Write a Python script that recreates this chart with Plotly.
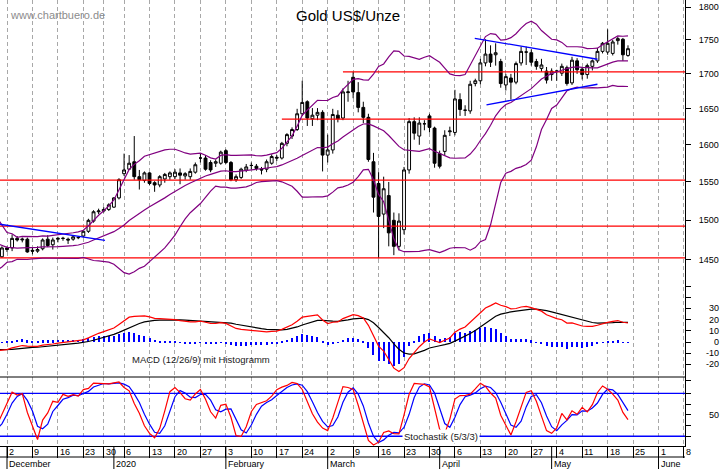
import numpy as np
import pandas as pd
import plotly.graph_objects as go

# ---------------- data ----------------
title_text = "Gold US$/Unze"
watermark = "www.chartbuero.de"

holidays = ["2019-12-25", "2020-01-01"]
calendar = pd.bdate_range("2019-11-29", "2020-06-12")
calendar = calendar[~calendar.isin(pd.to_datetime(holidays))]

# daily candles 2019-11-29 .. 2020-05-22
open_ = [1454, 1465, 1465, 1477, 1475, 1476, 1462, 1461, 1464, 1476, 1469,
         1476, 1477, 1476, 1476, 1478, 1480, 1486, 1499, 1511, 1512,
         1514, 1517, 1529, 1561, 1567, 1577, 1557, 1552, 1562, 1549,
         1546, 1554, 1557, 1557, 1562, 1558, 1557, 1563, 1582, 1582,
         1576, 1575, 1575, 1592, 1576, 1553, 1556, 1566, 1572, 1571,
         1567, 1567, 1575, 1583, 1582, 1602, 1612, 1621, 1643, 1660,
         1636, 1641, 1645, 1586, 1593, 1641, 1637, 1673, 1695, 1673,
         1652, 1638, 1577, 1548, 1508, 1532, 1500, 1467, 1488, 1566,
         1632, 1612, 1629, 1640, 1623, 1588, 1591, 1618, 1617, 1663,
         1648, 1647, 1686, 1690, 1716, 1729, 1728, 1718, 1684, 1694,
         1688, 1716, 1732, 1731, 1718, 1708, 1704, 1699, 1704, 1701,
         1709, 1687, 1719, 1707, 1699, 1711, 1719, 1733, 1732, 1730,
         1749, 1751, 1727]
high = [1467, 1467, 1482, 1480, 1478, 1478, 1465, 1467, 1477, 1481, 1478,
        1479, 1479, 1478, 1481, 1480, 1487, 1502, 1513, 1515, 1517,
        1522, 1530, 1555, 1588, 1586, 1612, 1566, 1564, 1563, 1551,
        1559, 1562, 1564, 1567, 1568, 1563, 1568, 1576, 1588, 1586,
        1579, 1580, 1592, 1594, 1578, 1560, 1569, 1574, 1576, 1574,
        1570, 1580, 1587, 1586, 1604, 1616, 1624, 1650, 1690, 1662,
        1651, 1651, 1648, 1614, 1650, 1648, 1679, 1690, 1703, 1688,
        1660, 1643, 1589, 1563, 1557, 1550, 1510, 1509, 1570, 1637,
        1638, 1638, 1634, 1643, 1625, 1592, 1620, 1625, 1677, 1672,
        1655, 1690, 1693, 1722, 1751, 1742, 1745, 1722, 1700, 1700,
        1718, 1740, 1740, 1736, 1722, 1722, 1710, 1708, 1706, 1715,
        1712, 1725, 1723, 1710, 1715, 1721, 1738, 1747, 1766, 1750,
        1755, 1753, 1742]
low = [1453, 1460, 1461, 1473, 1472, 1459, 1457, 1459, 1462, 1466, 1463,
       1472, 1474, 1470, 1474, 1476, 1478, 1484, 1497, 1508, 1510,
       1512, 1516, 1527, 1558, 1566, 1553, 1540, 1549, 1546, 1537,
       1543, 1549, 1553, 1554, 1547, 1553, 1553, 1561, 1576, 1565,
       1563, 1570, 1573, 1574, 1551, 1550, 1554, 1563, 1567, 1565,
       1560, 1563, 1573, 1578, 1580, 1598, 1608, 1619, 1640, 1626,
       1626, 1634, 1564, 1576, 1588, 1631, 1634, 1660, 1665, 1645,
       1630, 1577, 1510, 1452, 1490, 1467, 1456, 1462, 1482, 1561,
       1607, 1600, 1620, 1617, 1569, 1568, 1585, 1612, 1613, 1640,
       1640, 1643, 1682, 1685, 1711, 1710, 1712, 1680, 1676, 1663,
       1685, 1712, 1713, 1712, 1706, 1703, 1686, 1690, 1690, 1697,
       1683, 1684, 1700, 1692, 1693, 1705, 1716, 1730, 1728, 1727,
       1743, 1719, 1725]
close = [1465, 1463, 1477, 1475, 1476, 1460, 1461, 1463, 1475, 1468, 1475,
         1477, 1477, 1475, 1479, 1478, 1486, 1500, 1511, 1512, 1514,
         1520, 1529, 1553, 1566, 1575, 1557, 1553, 1562, 1548, 1546,
         1557, 1560, 1562, 1563, 1559, 1561, 1564, 1573, 1582, 1567,
         1566, 1577, 1590, 1576, 1553, 1557, 1567, 1570, 1572, 1568,
         1566, 1577, 1584, 1582, 1602, 1614, 1621, 1643, 1659, 1637,
         1641, 1645, 1586, 1593, 1642, 1636, 1674, 1674, 1674, 1652,
         1638, 1580, 1530, 1505, 1541, 1484, 1467, 1499, 1566, 1632,
         1616, 1630, 1629, 1624, 1575, 1571, 1613, 1619, 1664, 1649,
         1648, 1685, 1690, 1716, 1729, 1717, 1731, 1686, 1696, 1688,
         1715, 1733, 1732, 1717, 1711, 1713, 1691, 1704, 1704, 1711,
         1686, 1720, 1706, 1699, 1712, 1719, 1733, 1745, 1745, 1747,
         1752, 1728, 1737]

# history before the visible window (indicator warm-up only)
warm_close = [1479, 1499, 1506, 1505, 1493, 1505, 1506, 1494, 1489, 1497, 1481, 1490,
              1492, 1489, 1484, 1487, 1492, 1504, 1505, 1493, 1488, 1495, 1513,
              1514, 1510, 1484, 1491, 1468, 1459, 1456, 1456, 1463, 1471, 1468,
              1472, 1471, 1474, 1464, 1462, 1455, 1462, 1455, 1457]
warm_high = [1474, 1474, 1475, 1476, 1478, 1474, 1467, 1464, 1463, 1462, 1460]
warm_low = [1462, 1466, 1465, 1468, 1463, 1461, 1458, 1450, 1454, 1452, 1454]

# drawn support / resistance levels and trend lines
support_levels = [1703, 1635.5, 1552.5, 1492.5, 1452.5]
support_start = ["2020-03-05", "2020-02-18", None, None, None]
trend_idx = [(-0.4, 20.25), (92.9, 117.0), (95.2, 117.0)]
trend_price = [(1495, 1474.5), (1752.5, 1721.4), (1655.5, 1685.0)]

price_ticks = [1450, 1500, 1550, 1600, 1650, 1700, 1750, 1800]
macd_ticks = [30, 20, 10, 0, -10, -20]
stoch_levels = [20, 80]
month_names = {12: "December", 1: "2020", 2: "February", 3: "March",
               4: "April", 5: "May", 6: "June"}

# ---------------- indicators ----------------
n = len(close)
nw = len(warm_close)
x = np.arange(n)
c_all = pd.Series(warm_close + close, dtype=float)
h_all = pd.Series(warm_close[:nw - len(warm_high)] + warm_high + high, dtype=float)
l_all = pd.Series(warm_close[:nw - len(warm_low)] + warm_low + low, dtype=float)
k_all = np.arange(len(c_all)) - nw

mid = c_all.rolling(20).mean()
sd = c_all.rolling(20).std(ddof=0)
upper = mid + 2 * sd
lower = mid - 2 * sd

ema12 = c_all.ewm(span=12, adjust=False).mean()
ema26 = c_all.ewm(span=26, adjust=False).mean()
macd = ema12 - ema26
signal = macd.ewm(span=9, adjust=False).mean()
hist = macd - signal

hh = h_all.rolling(5).max()
ll = l_all.rolling(5).min()
raw_k = 100 * (c_all - ll) / (hh - ll)
slow_k = raw_k.rolling(3).mean()
slow_d = slow_k.rolling(3).mean()

m = k_all >= -1
kx = k_all[m]

# ---------------- figure ----------------
XMIN, XMAX = -0.375, 134.2
PLOT_H = 446.0


def py(pix):
    return (PLOT_H - pix) / PLOT_H


FONT = "Liberation Sans, Arial, sans-serif"
fig = go.Figure()

fig.add_trace(go.Candlestick(
    x=x, open=open_, high=high, low=low, close=close,
    increasing=dict(line=dict(color="black", width=1), fillcolor="white"),
    decreasing=dict(line=dict(color="black", width=1), fillcolor="black"),
    whiskerwidth=0, xaxis="x", yaxis="y", hoverinfo="skip"))

for lvl, start in zip(support_levels, support_start):
    x0 = XMIN if start is None else int(np.where(calendar == pd.Timestamp(start))[0][0])
    fig.add_trace(go.Scatter(x=[x0, XMAX], y=[lvl, lvl], mode="lines",
                             line=dict(color="#ff0000", width=1.3), yaxis="y"))

for band in (upper, mid, lower):
    fig.add_trace(go.Scatter(x=kx, y=band[m], mode="lines",
                             line=dict(color="#800080", width=1.2), yaxis="y"))

for xi, yi in zip(trend_idx, trend_price):
    fig.add_trace(go.Scatter(x=list(xi), y=list(yi), mode="lines",
                             line=dict(color="#0000ff", width=1.3), yaxis="y"))

# MACD
fig.add_trace(go.Bar(x=kx[kx >= 0], y=hist[m][kx >= 0], width=0.2,
                     marker=dict(color="#0000ff", line=dict(width=0)), yaxis="y2"))
fig.add_trace(go.Scatter(x=kx, y=signal[m], mode="lines",
                         line=dict(color="black", width=1.2), yaxis="y2"))
fig.add_trace(go.Scatter(x=kx, y=macd[m], mode="lines",
                         line=dict(color="#ff0000", width=1.2), yaxis="y2"))

# Stochastic
for lvl in stoch_levels:
    fig.add_trace(go.Scatter(x=[XMIN, XMAX], y=[lvl, lvl], mode="lines",
                             line=dict(color="#0000ff", width=1.3), yaxis="y3"))
fig.add_trace(go.Scatter(x=kx, y=slow_d[m], mode="lines",
                         line=dict(color="#0000ff", width=1.2), yaxis="y3"))
fig.add_trace(go.Scatter(x=kx, y=slow_k[m], mode="lines",
                         line=dict(color="#ff0000", width=1.2), yaxis="y3"))

# calendar ticks
mondays = [i for i, d in enumerate(calendar) if d.weekday() == 0]
month_starts = [i for i, d in enumerate(calendar)
                if i > 0 and calendar[i - 1].month != d.month and d.month in month_names]

annotations = [
    dict(text=title_text, x=348 / 685, y=py(16), xref="paper", yref="paper",
         showarrow=False, font=dict(family=FONT, size=15, color="black"),
         xanchor="center", yanchor="middle"),
    dict(text=watermark, x=8 / 685, y=py(15), xref="paper", yref="paper",
         showarrow=False, font=dict(family=FONT, size=11, color="#8c8c8c"),
         xanchor="left", yanchor="middle"),
    dict(text="MACD (12/26/9) mit Histogramm", x=130 / 685, y=py(359), xref="paper",
         yref="paper", showarrow=False, font=dict(family=FONT, size=9.5, color="#1a1a1a"),
         xanchor="left", yanchor="middle"),
    dict(text="Stochastik (5/3/3)", x=402 / 685, y=20, xref="paper", yref="y3",
         showarrow=False, font=dict(family=FONT, size=9.5, color="#1a1a1a"),
         xanchor="left", yanchor="middle", bgcolor="white", borderpad=1),
]
for v in macd_ticks:
    annotations.append(dict(text=str(v), x=721 / 685, y=v, xref="paper", yref="y2",
                            showarrow=False, xanchor="right", yanchor="middle",
                            font=dict(family=FONT, size=9, color="black")))
annotations.append(dict(text="50", x=721 / 685, y=50, xref="paper", yref="y3",
                        showarrow=False, xanchor="right", yanchor="middle",
                        font=dict(family=FONT, size=9, color="black")))
for i in mondays:
    annotations.append(dict(text=str(calendar[i].day), x=i, y=py(452), xref="x",
                            yref="paper", showarrow=False, xanchor="left",
                            yanchor="middle", xshift=0,
                            font=dict(family=FONT, size=9, color="black")))
for i in month_starts:
    annotations.append(dict(text=month_names[calendar[i].month], x=i, y=py(463.5),
                            xref="x", yref="paper", showarrow=False, xanchor="left",
                            yanchor="middle", xshift=0,
                            font=dict(family=FONT, size=9, color="black")))

shapes = [
    dict(type="line", xref="paper", yref="paper", x0=0, x1=1, y0=py(377), y1=py(377),
         line=dict(color="black", width=1)),
    dict(type="line", xref="paper", yref="paper", x0=0, x1=1, y0=py(457), y1=py(457),
         line=dict(color="black", width=1)),
]
for i in month_starts:
    shapes.append(dict(type="line", xref="x", yref="paper", x0=i, x1=i, y0=py(446),
                       y1=py(469), line=dict(color="black", width=1)))

axis_common = dict(side="right", anchor="x", showgrid=False, zeroline=False,
                   showline=True, linecolor="black", linewidth=1, ticks="outside",
                   ticklen=5, tickcolor="black", tickwidth=1)

fig.update_layout(
    width=723, height=469,
    margin=dict(l=0, r=38, t=0, b=23),
    paper_bgcolor="white", plot_bgcolor="white",
    showlegend=False, hovermode=False, bargap=0,
    boxgap=0.2,
    xaxis=dict(range=[XMIN, XMAX], anchor="y3", tickmode="array", tickvals=mondays,
               showticklabels=False, ticks="outside", ticklen=11, tickcolor="black",
               showgrid=True, gridcolor="#a8a8a8", griddash="4px,3px", gridwidth=1,
               showline=True, linecolor="black", zeroline=False,
               rangeslider=dict(visible=False)),
    yaxis=dict(domain=[py(280), 1], type="log",
               range=[np.log10(1425.4), np.log10(1810.8)],
               tickmode="array", tickvals=price_ticks,
               tickfont=dict(family=FONT, size=9, color="black"),
               ticklabelstandoff=6, **axis_common),
    yaxis2=dict(domain=[py(377), py(280)], range=[-31.25, 55.4], tickmode="array",
                tickvals=[-20, -10, 0, 10, 20, 30, 40, 50], showticklabels=False,
                **axis_common),
    yaxis3=dict(domain=[0, py(377)], range=[6.4, 102.8], tickmode="array",
                tickvals=[20, 35, 50, 65, 80, 98], showticklabels=False, **axis_common),
    annotations=annotations,
    shapes=shapes,
)

fig.write_html("out.html", config=dict(displayModeBar=False))
